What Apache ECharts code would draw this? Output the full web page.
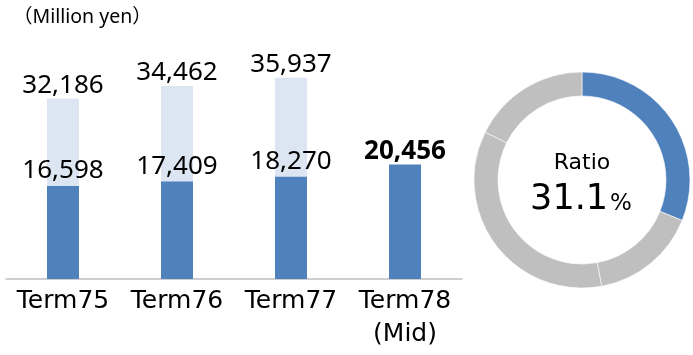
<!DOCTYPE html>
<html>
<head>
<meta charset="utf-8">
<script src="https://cdn.jsdelivr.net/npm/echarts@6/dist/echarts.min.js"></script>
<style>
html,body{margin:0;padding:0;background:#fff;}
#chart{width:693px;height:355px;}
</style>
</head>
<body>
<div id="chart"></div>
<script>
const categories = ['Term75', 'Term76', 'Term77', 'Term78\n(Mid)'];
const fullYear = [32186, 34462, 35937, null];
const midTerm = [16598, 17409, 18270, 20456];
const ratioValue = 31.1;
const ratioSegments = [31.1, 16.0, 35.2, 17.7];
const unitLabel = '（Million yen）';

const numFont = '"Noto Sans", "Liberation Sans", sans-serif';
const fmt = v => v == null ? '' : v.toLocaleString('en-US');

const chart = echarts.init(document.getElementById('chart'), null, {renderer: 'canvas'});

const midData = midTerm.map((v, i) => i === midTerm.length - 1
  ? {value: v, label: {fontWeight: 'bold', distance: 0}}
  : v);

chart.setOption({
  animation: false,
  backgroundColor: '#ffffff',
  title: {
    text: unitLabel,
    left: 8, top: 3,
    textStyle: {fontFamily: '"Noto Sans", "Noto Sans CJK JP", sans-serif', fontSize: 19.5, fontWeight: 'normal', color: '#000'}
  },
  grid: {left: 6, width: 456, top: 55, bottom: 76},
  xAxis: {
    type: 'category',
    data: categories,
    axisLine: {lineStyle: {color: '#bfbfbf', width: 1.5}},
    axisTick: {show: false},
    axisLabel: {
      fontFamily: '"DejaVu Sans", sans-serif', fontSize: 25, color: '#000',
      lineHeight: 33, margin: 6, interval: 0
    }
  },
  yAxis: {type: 'value', min: 0, max: 40000, show: false, splitLine: {show: false}},
  series: [
    {
      type: 'bar', data: fullYear, barWidth: 32, barGap: '-100%',
      itemStyle: {color: '#dce6f2'},
      label: {show: true, position: 'top', distance: 0, fontFamily: numFont, fontSize: 26, color: '#000', formatter: p => fmt(p.value)},
      silent: true
    },
    {
      type: 'bar', data: midData, barWidth: 32, barGap: '-100%',
      itemStyle: {color: '#4f81bd'},
      label: {show: true, position: 'top', distance: 2, fontFamily: numFont, fontSize: 26, color: '#000', formatter: p => fmt(p.value)},
      silent: true
    },
    {
      type: 'pie',
      center: [582, 180],
      radius: [84, 108],
      startAngle: 90,
      clockwise: true,
      silent: true,
      label: {show: false},
      labelLine: {show: false},
      itemStyle: {borderColor: '#ffffff', borderWidth: 0.6},
      data: ratioSegments.map((v, i) => ({value: v, itemStyle: {color: i === 0 ? '#4f81bd' : '#bfbfbf'}}))
    }
  ],
  graphic: [
    {
      type: 'text', x: 582, y: 163,
      style: {text: 'Ratio', fontFamily: '"DejaVu Sans", sans-serif', fontSize: 22, fill: '#000', align: 'center', verticalAlign: 'middle'}
    },
    {
      type: 'text', x: 581, y: 200,
      style: {
        text: '{a|' + ratioValue.toFixed(1) + '}{b|%}',
        align: 'center', verticalAlign: 'middle',
        rich: {
          a: {fontFamily: '"DejaVu Sans", sans-serif', fontSize: 35, fill: '#000', color: '#000'},
          b: {fontFamily: '"DejaVu Sans", sans-serif', fontSize: 23, fill: '#000', color: '#000', padding: [8, 0, 0, 2]}
        }
      }
    }
  ]
});
</script>
</body>
</html>
